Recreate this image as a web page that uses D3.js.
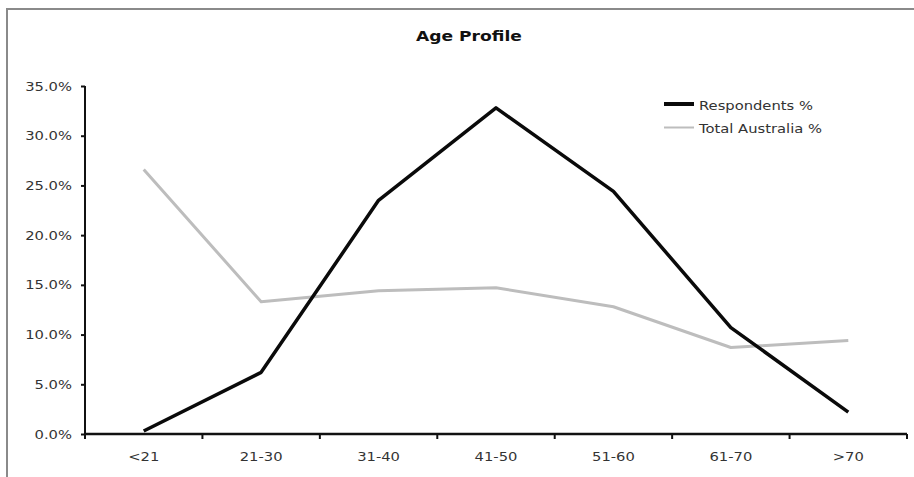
<!DOCTYPE html>
<html><head><meta charset="utf-8">
<script src="https://cdn.jsdelivr.net/npm/d3@7"></script>
<style>body{margin:0;background:#fff;} svg{display:block;}</style>
</head><body>
<svg id="chart" width="914" height="477"></svg>
<script>
const categories = ["<21","21-30","31-40","41-50","51-60","61-70",">70"];
const respondents = [0.3, 6.2, 23.5, 32.8, 24.4, 10.7, 2.2];
const totalAustralia = [26.6, 13.3, 14.4, 14.7, 12.8, 8.7, 9.4];
const yTicks = [0, 5, 10, 15, 20, 25, 30, 35];
const seriesNames = ["Respondents %", "Total Australia %"];
const title = "Age Profile";

const svg = d3.select("#chart");
const font = "DejaVu Sans, Verdana, sans-serif";
const SX = 1.18;

const margin = {left: 85, right: 907, top: 86, bottom: 434};
const x = d3.scaleBand().domain(categories).range([margin.left, margin.right]);
const y = d3.scaleLinear().domain([0, 35]).range([margin.bottom, margin.top]);

// frame
svg.append("rect").attr("x", 7).attr("y", 9).attr("width", 960).attr("height", 520)
  .attr("fill", "none").attr("stroke", "#8a8a8a").attr("stroke-width", 2);

function stretchedText(g, tx, ty, str, opts) {
  const t = g.append("text")
    .attr("transform", `translate(${tx},${ty}) scale(${SX},1)`)
    .attr("font-family", font)
    .attr("font-size", opts.size || 12)
    .attr("fill", opts.fill || "#333")
    .attr("text-anchor", opts.anchor || "start")
    .attr("dominant-baseline", "central")
    .text(str);
  if (opts.weight) t.attr("font-weight", opts.weight);
  return t;
}

// title
stretchedText(svg, 469, 36, title, {size: 14.5, weight: "bold", anchor: "middle", fill: "#111"});

// y axis
const yAxis = svg.append("g").attr("transform", `translate(${margin.left},0)`)
  .call(d3.axisLeft(y).tickValues(yTicks).tickSize(4).tickFormat(""));
yAxis.select(".domain").attr("stroke", "#111").attr("stroke-width", 2).attr("d", `M0,${margin.top}V${margin.bottom}`);
yAxis.selectAll(".tick line").attr("stroke", "#111").attr("stroke-width", 2);
yTicks.forEach(v => stretchedText(svg, 72, y(v), v.toFixed(1) + "%", {anchor: "end", size: 12.5}));

// x axis
const xAxis = svg.append("g").attr("transform", `translate(0,${margin.bottom})`)
  .call(d3.axisBottom(x).tickSize(0).tickFormat(""));
xAxis.select(".domain").attr("stroke", "#111").attr("stroke-width", 2.5).attr("d", `M${margin.left},0H${margin.right}`);
const bounds = categories.map(c => x(c)).concat([x(categories[categories.length-1]) + x.bandwidth()]);
svg.append("g").selectAll("line").data(bounds).join("line")
  .attr("x1", d => d).attr("x2", d => d)
  .attr("y1", margin.bottom).attr("y2", margin.bottom + 5)
  .attr("stroke", "#111").attr("stroke-width", 2);
categories.forEach(c => stretchedText(svg, x(c) + x.bandwidth()/2, 456, c, {anchor: "middle", size: 12.5}));

// lines
const line = d3.line().x((d, i) => x(categories[i]) + x.bandwidth()/2).y(d => y(d));
svg.append("path").datum(totalAustralia).attr("d", line)
  .attr("fill", "none").attr("stroke", "#bdbdbd").attr("stroke-width", 3).attr("stroke-linejoin", "round");
svg.append("path").datum(respondents).attr("d", line)
  .attr("fill", "none").attr("stroke", "#0a0a0a").attr("stroke-width", 3.5).attr("stroke-linejoin", "round");

// legend
const legend = svg.append("g");
const legendColors = ["#0a0a0a", "#bdbdbd"];
const legendWidths = [4, 2];
seriesNames.forEach((n, i) => {
  const ly = 104 + i * 23.5;
  legend.append("line").attr("x1", 664).attr("x2", 694).attr("y1", ly).attr("y2", ly)
    .attr("stroke", legendColors[i]).attr("stroke-width", legendWidths[i]);
  stretchedText(legend, 699, ly + 1, n, {size: 12.5});
});
</script>
</body></html>
